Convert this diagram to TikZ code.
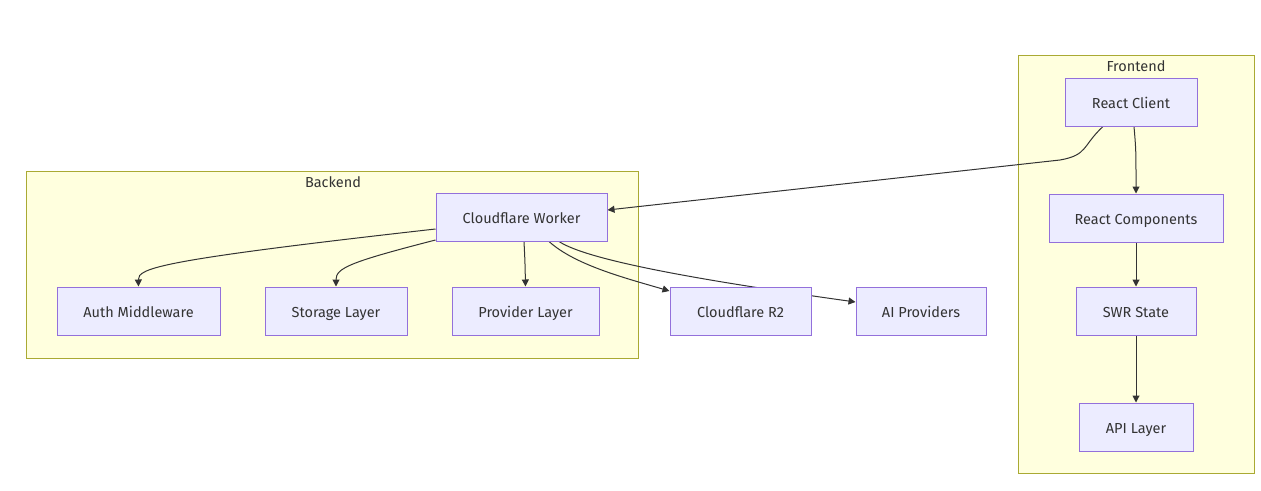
\documentclass[tikz,border=0pt]{standalone}
\usepackage{fontspec}
\setmainfont{Fira Sans}
\usetikzlibrary{arrows.meta}
\definecolor{nodefill}{HTML}{ECECFF}
\definecolor{nodeline}{HTML}{9370DB}
\definecolor{clfill}{HTML}{FFFFDE}
\definecolor{clline}{HTML}{AAAA33}
\definecolor{edgec}{HTML}{333333}
\pgfdeclarelayer{bg}
\pgfdeclarelayer{edges}
\pgfsetlayers{bg,edges,main}
\tikzset{
  box/.style={draw=nodeline, fill=nodefill, line width=1pt, minimum height=48pt, inner sep=0pt,
    font=\fontsize{14.5}{17}\selectfont, text=edgec, text height=14pt, text depth=2pt},
  cluster/.style={draw=clline, fill=clfill, line width=1pt},
  cllabel/.style={font=\fontsize{14.5}{17}\selectfont, text=edgec, inner sep=0pt, text height=12pt, text depth=2pt},
  edge/.style={draw=edgec, line width=1pt, -{Triangle[length=7pt,width=7pt]}},
}
\begin{document}
\begin{tikzpicture}[x=1pt,y=-1pt]
\path[use as bounding box] (0,0) rectangle (1261,490);
% nodes
\node[box, minimum width=171pt] (W) at (521.5,217) {Cloudflare Worker};
\node[box, minimum width=163pt] (AM) at (138.5,311) {Auth Middleware};
\node[box, minimum width=142pt] (SL) at (336,311) {Storage Layer};
\node[box, minimum width=147pt] (PL) at (525.5,311) {Provider Layer};
\node[box, minimum width=141pt] (R2) at (740.5,311) {Cloudflare R2};
\node[box, minimum width=130pt] (AI) at (921,311) {AI Providers};
\node[box, minimum width=132pt] (RC) at (1131,102) {React Client};
\node[box, minimum width=174pt] (RCo) at (1136,218) {React Components};
\node[box, minimum width=120pt] (SWR) at (1136,311) {SWR State};
\node[box, minimum width=114pt] (API) at (1136,427) {API Layer};
% clusters
\begin{pgfonlayer}{bg}
\path[cluster] (26,171) rectangle (638,358);
\path[cluster] (1018,55) rectangle (1254,473);
\end{pgfonlayer}
\node[cllabel] (lblB) at (333,182) {Backend};
\node[cllabel] (lblF) at (1136,66) {Frontend};
% edges
\begin{pgfonlayer}{edges}
\coordinate (c1) at (1060,160);
\draw[edge] ([xshift=-28pt]RC.south) .. controls (1082,146) and (1088,155) .. (c1) -- ([yshift=7pt]W.east);
\draw[edge] ([xshift=3pt]RC.south) .. controls (1136,150) .. (RCo.north);
\draw[edge] (RCo) -- (SWR);
\draw[edge] (SWR) -- (API);
\draw[edge] ([yshift=-12pt]W.west) .. controls (160,260) and (138,268) .. (AM.north);
\draw[edge] ([yshift=-23pt]W.west) .. controls (350,262) and (336,268) .. (SL.north);
\draw[edge] ([xshift=2.5pt]W.south) .. controls (525,262) .. (PL.north);
\draw[edge] ([xshift=27.5pt]W.south) .. controls (575,265) and (625,278) .. ([yshift=20pt]R2.west);
\draw[edge] ([xshift=37.5pt]W.south) .. controls (590,262) and (720,283) .. ([yshift=9pt]AI.west);
\end{pgfonlayer}
\end{tikzpicture}
\end{document}
